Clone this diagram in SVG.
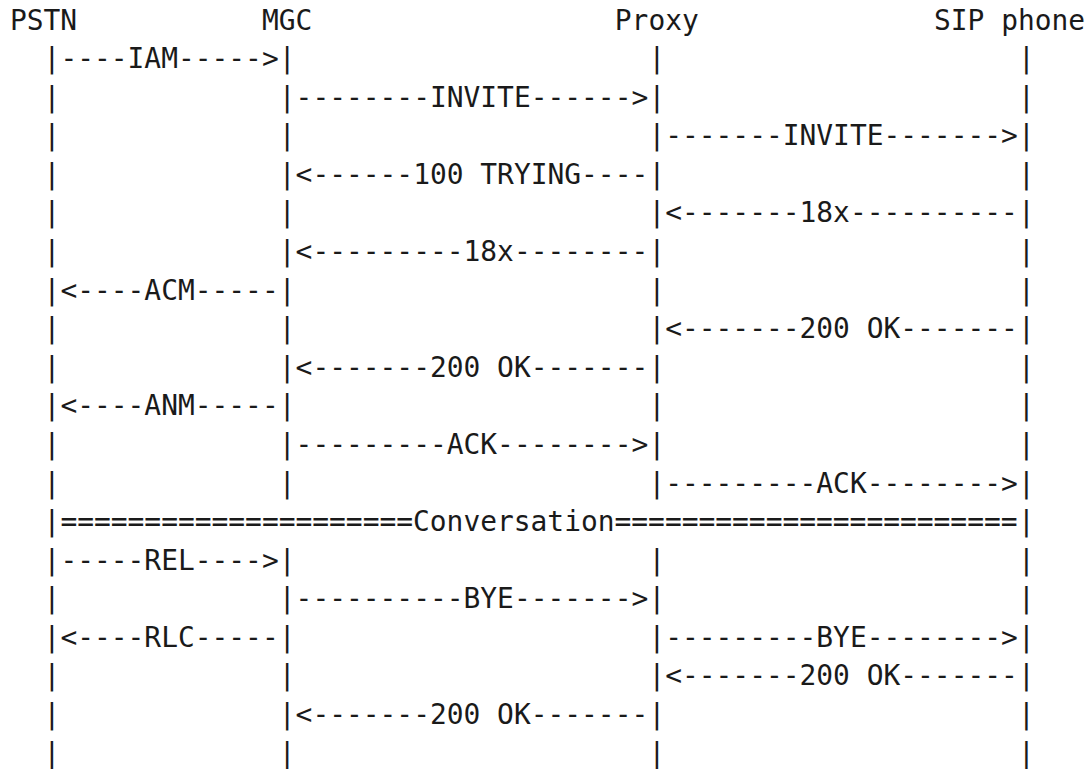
<svg xmlns="http://www.w3.org/2000/svg" width="1092" height="769" viewBox="0 0 1092 769">
<style>
text{font-family:"DejaVu Sans Mono","Liberation Mono",monospace;font-size:27.9px;fill:#1a1a1a;white-space:pre}
</style>
<rect width="1092" height="769" fill="#ffffff"/>
<g id="pstn">
<text x="10" y="29.5">PSTN</text>
<text x="43.6" y="68.1">|</text><text x="43.6" y="106.7">|</text><text x="43.6" y="145.2">|</text><text x="43.6" y="183.8">|</text><text x="43.6" y="222.4">|</text><text x="43.6" y="261">|</text><text x="43.6" y="299.6">|</text><text x="43.6" y="338.1">|</text><text x="43.6" y="376.7">|</text><text x="43.6" y="415.3">|</text><text x="43.6" y="453.9">|</text><text x="43.6" y="492.5">|</text><text x="43.6" y="531">|</text><text x="43.6" y="569.6">|</text><text x="43.6" y="608.2">|</text><text x="43.6" y="646.8">|</text><text x="43.6" y="685.4">|</text><text x="43.6" y="723.9">|</text><text x="43.6" y="762.5">|</text>
</g>
<g id="mgc">
<text x="262" y="29.5">MGC</text>
<text x="278.8" y="68.1">|</text><text x="278.8" y="106.7">|</text><text x="278.8" y="145.2">|</text><text x="278.8" y="183.8">|</text><text x="278.8" y="222.4">|</text><text x="278.8" y="261">|</text><text x="278.8" y="299.6">|</text><text x="278.8" y="338.1">|</text><text x="278.8" y="376.7">|</text><text x="278.8" y="415.3">|</text><text x="278.8" y="453.9">|</text><text x="278.8" y="492.5">|</text><text x="278.8" y="569.6">|</text><text x="278.8" y="608.2">|</text><text x="278.8" y="646.8">|</text><text x="278.8" y="685.4">|</text><text x="278.8" y="723.9">|</text><text x="278.8" y="762.5">|</text>
</g>
<g id="proxy">
<text x="614.8" y="29.5">Proxy</text>
<text x="648.4" y="68.1">|</text><text x="648.4" y="106.7">|</text><text x="648.4" y="145.2">|</text><text x="648.4" y="183.8">|</text><text x="648.4" y="222.4">|</text><text x="648.4" y="261">|</text><text x="648.4" y="299.6">|</text><text x="648.4" y="338.1">|</text><text x="648.4" y="376.7">|</text><text x="648.4" y="415.3">|</text><text x="648.4" y="453.9">|</text><text x="648.4" y="492.5">|</text><text x="648.4" y="569.6">|</text><text x="648.4" y="608.2">|</text><text x="648.4" y="646.8">|</text><text x="648.4" y="685.4">|</text><text x="648.4" y="723.9">|</text><text x="648.4" y="762.5">|</text>
</g>
<g id="sip-phone">
<text x="934" y="29.5">SIP phone</text>
<text x="1018" y="68.1">|</text><text x="1018" y="106.7">|</text><text x="1018" y="145.2">|</text><text x="1018" y="183.8">|</text><text x="1018" y="222.4">|</text><text x="1018" y="261">|</text><text x="1018" y="299.6">|</text><text x="1018" y="338.1">|</text><text x="1018" y="376.7">|</text><text x="1018" y="415.3">|</text><text x="1018" y="453.9">|</text><text x="1018" y="492.5">|</text><text x="1018" y="531">|</text><text x="1018" y="569.6">|</text><text x="1018" y="608.2">|</text><text x="1018" y="646.8">|</text><text x="1018" y="685.4">|</text><text x="1018" y="723.9">|</text><text x="1018" y="762.5">|</text>
</g>
<g id="connectors">
<text x="60.4" y="68.1">----IAM-----&gt;</text>
<text x="295.6" y="106.7">--------INVITE------&gt;</text>
<text x="665.2" y="145.2">-------INVITE-------&gt;</text>
<text x="295.6" y="183.8">&lt;------100 TRYING----</text>
<text x="665.2" y="222.4">&lt;-------18x----------</text>
<text x="295.6" y="261">&lt;---------18x--------</text>
<text x="60.4" y="299.6">&lt;----ACM-----</text>
<text x="665.2" y="338.1">&lt;-------200 OK-------</text>
<text x="295.6" y="376.7">&lt;-------200 OK-------</text>
<text x="60.4" y="415.3">&lt;----ANM-----</text>
<text x="295.6" y="453.9">---------ACK--------&gt;</text>
<text x="665.2" y="492.5">---------ACK--------&gt;</text>
<text x="60.4" y="531">=====================Conversation========================</text>
<text x="60.4" y="569.6">-----REL----&gt;</text>
<text x="295.6" y="608.2">----------BYE-------&gt;</text>
<text x="60.4" y="646.8">&lt;----RLC-----</text>
<text x="665.2" y="646.8">---------BYE--------&gt;</text>
<text x="665.2" y="685.4">&lt;-------200 OK-------</text>
<text x="295.6" y="723.9">&lt;-------200 OK-------</text>
</g>
</svg>
